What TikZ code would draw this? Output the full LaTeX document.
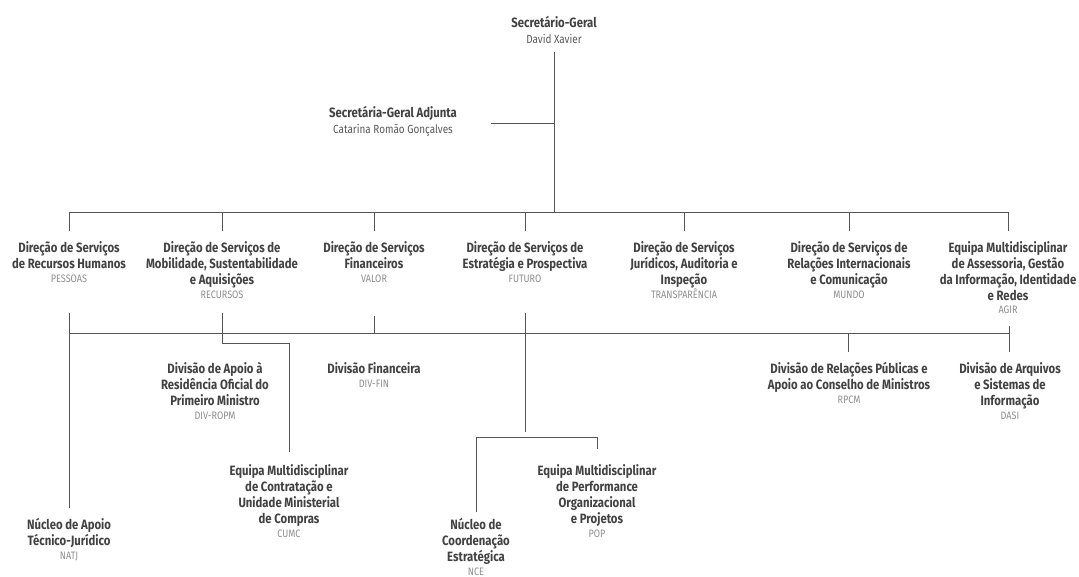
\documentclass[tikz,border=0pt]{standalone}
\usepackage{fontspec}
\setmainfont{Fira Sans}[FakeStretch=0.84]
\definecolor{tcol}{HTML}{424242}
\definecolor{ncol}{HTML}{5A5A5A}
\definecolor{ccol}{HTML}{8E8E8E}
\definecolor{lcol}{HTML}{555555}
\newcommand\ttlfont{\fontsize{13.5}{16}\selectfont\bfseries}
\newcommand\namefont{\fontsize{11.8}{16}\selectfont\mdseries\color{ncol}}
\newcommand\codefont{\fontsize{10.8}{16}\selectfont\mdseries\color{ccol}}
\newcommand\firstln{\rule{0pt}{12pt}}
\begin{document}
\begin{tikzpicture}[x=1pt,y=-1pt,
  unit/.style={align=center, anchor=north, inner sep=0pt, font=\ttlfont, text=tcol},
  conn/.style={draw=lcol, line width=1pt}]
\useasboundingbox (0,0) rectangle (1079,577);
\fill[white] (0,0) rectangle (1079,577);

% top
\node[unit] (sg) at (554,15) {\firstln Secretário-Geral\\{\namefont David Xavier}};
\node[unit] (sga) at (393,105) {\firstln Secretária-Geral Adjunta\\{\namefont Catarina Romão Gonçalves}};

% directions
\node[unit] (dsrh) at (69,240) {\firstln Direção de Serviços\\de Recursos Humanos\\[-2pt]{\codefont PESSOAS}};
\node[unit] (dsmsa) at (222,240) {\firstln Direção de Serviços de\\Mobilidade, Sustentabilidade\\e Aquisições\\[-2pt]{\codefont RECURSOS}};
\node[unit] (dsf) at (374,240) {\firstln Direção de Serviços\\Financeiros\\[-2pt]{\codefont VALOR}};
\node[unit] (dsep) at (525,240) {\firstln Direção de Serviços de\\Estratégia e Prospectiva\\[-2pt]{\codefont FUTURO}};
\node[unit] (dsjai) at (684,240) {\firstln Direção de Serviços\\Jurídicos, Auditoria e\\Inspeção\\[-2pt]{\codefont TRANSPARÊNCIA}};
\node[unit] (dsric) at (849,240) {\firstln Direção de Serviços de\\Relações Internacionais\\e Comunicação\\[-2pt]{\codefont MUNDO}};
\node[unit] (emag) at (1008,240) {\firstln Equipa Multidisciplinar\\de Assessoria, Gestão\\da Informação, Identidade\\e Redes\\[-3pt]{\codefont AGIR}};

% divisions
\node[unit] (darop) at (215,361) {\firstln Divisão de Apoio à\\Residência Oficial do\\Primeiro Ministro\\[-2pt]{\codefont DIV-ROPM}};
\node[unit] (dfin) at (374,361) {\firstln Divisão Financeira\\[-2pt]{\codefont DIV-FIN}};
\node[unit] (rpcm) at (849,361) {\firstln Divisão de Relações Públicas e\\Apoio ao Conselho de Ministros\\[-2pt]{\codefont RPCM}};
\node[unit] (dasi) at (1010,361) {\firstln Divisão de Arquivos\\e Sistemas de\\Informação\\[-2pt]{\codefont DASI}};
\node[unit] (cumc) at (289,463) {\firstln Equipa Multidisciplinar\\de Contratação e\\Unidade Ministerial\\de Compras\\[-2pt]{\codefont CUMC}};
\node[unit] (pop) at (597,463) {\firstln Equipa Multidisciplinar\\de Performance\\Organizacional\\e Projetos\\[-2pt]{\codefont POP}};
\node[unit] (natj) at (69,517) {\firstln Núcleo de Apoio\\Técnico-Jurídico\\[-2pt]{\codefont NATJ}};
\node[unit] (nce) at (476,517) {\firstln Núcleo de\\Coordenação\\Estratégica\\[-2pt]{\codefont NCE}};

% connector points
\coordinate (sgout) at (554,52);
\coordinate (busC) at (554,213);
\coordinate (busL) at (69,213);
\coordinate (busR) at (1009,213);
\coordinate (adjin) at (491,124);
\coordinate (adjj) at (554,124);
\coordinate (lbusL) at (69,334);
\coordinate (lbusR) at (1009,334);
\coordinate (rhout) at (69,313);
\coordinate (natjin) at (69,508);
\coordinate (msaout) at (222,313);
\coordinate (msabend) at (222,343);
\coordinate (cumcbend) at (289,343);
\coordinate (cumcin) at (289,452);
\coordinate (fout) at (374,316);
\coordinate (fbus) at (374,334);
\coordinate (epout) at (525,313);
\coordinate (epend) at (525,432);
\coordinate (barL) at (476,437);
\coordinate (barR) at (597,437);
\coordinate (ncein) at (476,512);
\coordinate (popin) at (597,449);
\coordinate (rpcmbus) at (848,334);
\coordinate (rpcmin) at (848,352);
\coordinate (agirout) at (1009,326);
\coordinate (dasiin) at (1009,352);

% connectors
\draw[conn] (sgout) -- (busC);
\draw[conn] (adjin) -- (adjj);
\draw[conn] (busL) -- (busR);
\foreach \n in {dsrh,dsmsa,dsf,dsep,dsjai,dsric,emag}
  \draw[conn] (busC -| \n) -- ++(0,18);
\draw[conn] (lbusL) -- (lbusR);
\draw[conn] (rhout) -- (natjin);
\draw[conn] (msaout) -- (msabend) -- (cumcbend) -- (cumcin);
\draw[conn] (fout) -- (fbus);
\draw[conn] (epout) -- (epend);
\draw[conn] (ncein) -- (barL) -- (barR) -- (popin);
\draw[conn] (rpcmbus) -- (rpcmin);
\draw[conn] (agirout) -- (dasiin);
\end{tikzpicture}
\end{document}
